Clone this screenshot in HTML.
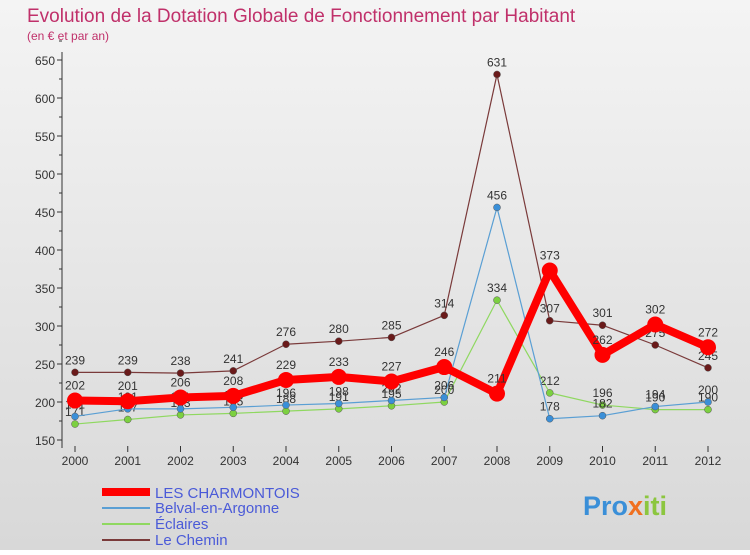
<!DOCTYPE html>
<html><head><meta charset="utf-8"><style>
body{margin:0;width:750px;height:550px;overflow:hidden;font-family:"Liberation Sans",sans-serif}
#wrap{position:relative;width:750px;height:550px;background:linear-gradient(#f4f4f4,#d8d8d8)}
</style></head><body>
<div id="wrap">
<svg id="chart" width="750" height="550">
<text x="27" y="22" font-size="19" fill="#c0306a">Evolution de la Dotation Globale de Fonctionnement par Habitant</text>
<text x="27" y="40" font-size="12" fill="#c0306a">(en € et par an)</text>
<g id="axes"></g><g id="series"></g>
<g>
<line x1="102" y1="492" x2="150" y2="492" stroke="#f00" stroke-width="8"/>
<text x="155" y="498" font-size="15" fill="#4a5ad8">LES CHARMONTOIS</text>
<line x1="102" y1="508" x2="150" y2="508" stroke="#5a9fd4" stroke-width="2"/>
<text x="155" y="513" font-size="15" fill="#4a5ad8">Belval-en-Argonne</text>
<line x1="102" y1="524" x2="150" y2="524" stroke="#8fd860" stroke-width="2"/>
<text x="155" y="529" font-size="15" fill="#4a5ad8">Éclaires</text>
<line x1="102" y1="540" x2="150" y2="540" stroke="#7a3a3a" stroke-width="2"/>
<text x="155" y="545" font-size="15" fill="#4a5ad8">Le Chemin</text>
</g>
<text x="583" y="515" font-size="27" font-weight="bold" fill="#3a8fd8">Pro<tspan fill="#f07020">x</tspan><tspan fill="#8cc63f">iti</tspan></text>
</svg>
</div>
<script>
const years=[2000,2001,2002,2003,2004,2005,2006,2007,2008,2009,2010,2011,2012];
const charmontois=[202,201,206,208,229,233,227,246,211,373,262,302,272];
const belval=[181,191,191,193,196,198,202,206,456,178,182,194,200];
const eclaires=[171,177,183,185,188,191,195,200,334,212,196,190,190];
const leChemin=[239,239,238,241,276,280,285,314,631,307,301,275,245];
const yTicks=[150,200,250,300,350,400,450,500,550,600,650];
const NS="http://www.w3.org/2000/svg";
const X=i=>75+i*52.75, Y=v=>440-(v-150)*0.76;
function mk(t,a,p){const e=document.createElementNS(NS,t);for(const k in a)e.setAttribute(k,a[k]);p.appendChild(e);return e;}
const ax=document.getElementById('axes'), sg=document.getElementById('series');
let yl=mk('line',{x1:62,y1:52,x2:62,y2:448,stroke:'#333'},ax);


yTicks.forEach(v=>{mk('line',{x1:57,y1:Y(v),x2:62,y2:Y(v),stroke:'#333'},ax);
 mk('line',{x1:59,y1:Y(v+25),x2:62,y2:Y(v+25),stroke:'#333'},ax);
 const t=mk('text',{x:55,y:Y(v)+5,'font-size':12,'text-anchor':'end',fill:'#333'},ax);t.textContent=v;
 
 });
years.forEach((yr,i)=>{mk('line',{x1:X(i),y1:446,x2:X(i),y2:452,stroke:'#333'},ax);
 const t=mk('text',{x:X(i),y:465,'font-size':12,'text-anchor':'middle',fill:'#333'},ax);t.textContent=yr;
 
 });
function draw(vals,color,w,r,name,pt){
 const g=mk('g',{},sg);
 
 
 mk('polyline',{points:vals.map((v,i)=>X(i)+','+Y(v)).join(' '),fill:'none',stroke:color,'stroke-width':w,'stroke-linejoin':'round'},g);
 vals.forEach((v,i)=>{const c=mk('circle',{cx:X(i),cy:Y(v),r:r,fill:pt,stroke:'#555','stroke-width':r>5?0:0.5},g);
  
  
  const t=mk('text',{x:X(i),y:Y(v)-8-(r>5?3:0),'font-size':12,'text-anchor':'middle',fill:'#333'},g);t.textContent=v;
  
  });
}
draw(leChemin,'#7a3a3a',1.2,3.5,'le-chemin','#6a1a1a');
draw(eclaires,'#8fd860',1.2,3.5,'eclaires','#7cd040');
draw(belval,'#5a9fd4',1.2,3.5,'belval','#3a8fd8');
draw(charmontois,'#f00',8,8,'charmontois','#f00');
</script>
</body></html>
